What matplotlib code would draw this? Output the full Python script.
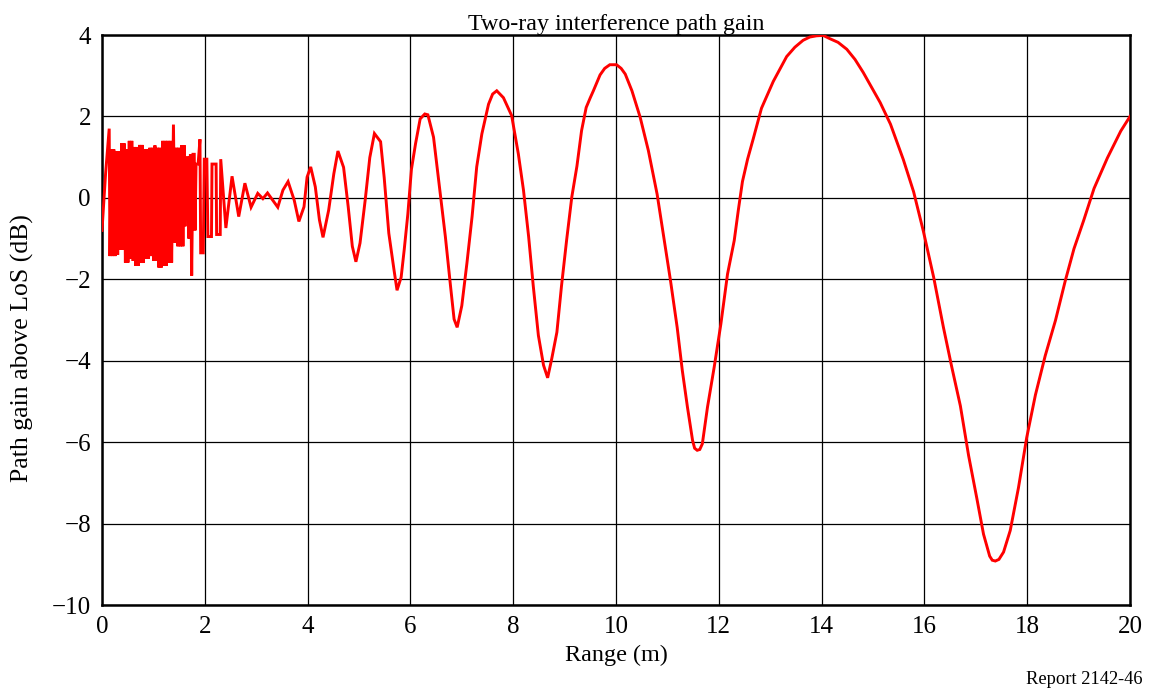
import matplotlib
matplotlib.use("Agg")
import matplotlib.pyplot as plt

# Range (m) and path gain above LoS (dB)
range_m = [
    0.000, 0.070, 0.140, 0.155, 0.180, 0.205, 0.230, 0.255, 0.280, 0.305,
    0.330, 0.355, 0.380, 0.405, 0.430, 0.455, 0.480, 0.505, 0.530, 0.555,
    0.580, 0.605, 0.630, 0.655, 0.680, 0.705, 0.730, 0.755, 0.780, 0.805,
    0.830, 0.855, 0.880, 0.905, 0.930, 0.955, 0.980, 1.005, 1.030, 1.055,
    1.080, 1.105, 1.130, 1.155, 1.180, 1.205, 1.230, 1.255, 1.280, 1.305,
    1.330, 1.355, 1.390, 1.420, 1.450, 1.475, 1.500, 1.525, 1.550, 1.575,
    1.600, 1.615, 1.640, 1.670, 1.690, 1.720, 1.745, 1.770, 1.795, 1.810,
    1.830, 1.870, 1.906, 1.920, 1.970, 1.990, 2.040, 2.060, 2.130, 2.140,
    2.220, 2.230, 2.300, 2.310, 2.410, 2.530, 2.660, 2.780, 2.900, 3.030,
    3.130, 3.220, 3.300, 3.420, 3.520, 3.620, 3.740, 3.830, 3.930, 3.990,
    4.060, 4.150, 4.230, 4.300, 4.410, 4.510, 4.590, 4.700, 4.790, 4.870,
    4.940, 5.020, 5.120, 5.210, 5.300, 5.420, 5.490, 5.580, 5.680, 5.740,
    5.820, 5.880, 5.950, 6.020, 6.100, 6.190, 6.280, 6.340, 6.450, 6.580,
    6.680, 6.780, 6.850, 6.910, 7.000, 7.100, 7.200, 7.290, 7.390, 7.520,
    7.600, 7.680, 7.810, 7.970, 8.100, 8.200, 8.300, 8.390, 8.490, 8.590,
    8.670, 8.750, 8.850, 8.940, 9.040, 9.140, 9.240, 9.330, 9.420, 9.500,
    9.560, 9.690, 9.780, 9.880, 10.010, 10.100, 10.180, 10.310, 10.470, 10.630,
    10.800, 10.930, 11.060, 11.190, 11.290, 11.390, 11.490, 11.530, 11.580, 11.630,
    11.680, 11.780, 11.910, 12.040, 12.170, 12.300, 12.380, 12.460, 12.560, 12.670,
    12.830, 13.060, 13.320, 13.480, 13.640, 13.770, 13.900, 14.030, 14.160, 14.320,
    14.490, 14.650, 14.810, 15.140, 15.340, 15.590, 15.790, 15.980, 16.180, 16.370,
    16.530, 16.700, 16.860, 17.020, 17.150, 17.270, 17.320, 17.380, 17.450, 17.540,
    17.670, 17.830, 17.990, 18.160, 18.350, 18.550, 18.740, 18.910, 19.100, 19.300,
    19.560, 19.820, 20.000,
]
gain_db = [
    -0.80, 0.60, 1.70, -1.43, 1.19, -1.43, 1.19, -1.43, 1.14, -1.40,
    1.14, -1.27, 1.34, -1.27, 1.34, -1.59, 1.19, -1.59, 1.40, -1.50,
    1.40, -1.55, 1.25, -1.67, 1.25, -1.67, 1.30, -1.60, 1.30, -1.60,
    1.20, -1.50, 1.20, -1.50, 1.23, -1.43, 1.23, -1.55, 1.29, -1.55,
    1.23, -1.71, 1.23, -1.71, 1.40, -1.67, 1.40, -1.67, 1.40, -1.59,
    1.40, -1.59, 1.80, -1.10, 1.23, -1.19, 1.23, -1.19, 1.29, -1.19,
    1.29, -0.70, 0.99, 0.99, -1.00, 1.07, -1.91, 1.07, 1.07, -0.80,
    0.83, 0.83, 1.44, -1.35, -1.35, 0.95, 0.95, -0.95, -0.95, 0.83,
    0.83, -0.90, -0.90, 0.95, -0.74, 0.53, -0.46, 0.36, -0.23, 0.11,
    -0.02, 0.12, -0.02, -0.23, 0.19, 0.40, -0.06, -0.58, -0.22, 0.51,
    0.76, 0.27, -0.54, -0.97, -0.30, 0.59, 1.15, 0.75, -0.22, -1.19,
    -1.57, -1.11, -0.06, 0.99, 1.58, 1.38, 0.50, -0.87, -1.76, -2.27,
    -1.95, -1.27, -0.40, 0.70, 1.33, 1.94, 2.06, 2.04, 1.49, 0.11,
    -0.95, -2.16, -2.98, -3.18, -2.65, -1.60, -0.46, 0.76, 1.57, 2.30,
    2.55, 2.63, 2.46, 2.02, 1.08, 0.19, -0.95, -2.16, -3.38, -4.11,
    -4.42, -3.95, -3.30, -2.16, -1.03, 0.02, 0.78, 1.65, 2.22, 2.46,
    2.63, 3.02, 3.18, 3.27, 3.27, 3.18, 3.04, 2.63, 1.98, 1.16,
    0.09, -0.97, -2.03, -3.18, -4.24, -5.14, -5.96, -6.15, -6.20, -6.18,
    -6.04, -5.14, -4.16, -3.10, -1.87, -1.05, -0.30, 0.40, 0.95, 1.45,
    2.20, 2.86, 3.47, 3.70, 3.87, 3.95, 3.98, 3.99, 3.91, 3.82,
    3.65, 3.40, 3.08, 2.34, 1.81, 0.94, 0.15, -0.82, -1.95, -3.18,
    -4.14, -5.11, -6.33, -7.38, -8.26, -8.80, -8.90, -8.92, -8.88, -8.70,
    -8.17, -7.12, -5.89, -4.84, -3.88, -3.01, -2.04, -1.25, -0.55, 0.23,
    0.98, 1.64, 2.00,
]
x_ticks = [0, 2, 4, 6, 8, 10, 12, 14, 16, 18, 20]
y_ticks = [-10, -8, -6, -4, -2, 0, 2, 4]
y_tick_labels = ["\u221210", "\u22128", "\u22126", "\u22124", "\u22122", "0", "2", "4"]

plt.rcParams['font.family'] = ['Liberation Serif', 'DejaVu Serif']

fig = plt.figure(figsize=(11.5, 6.91), dpi=100)
ax = fig.add_axes([102 / 1150, 1 - 605 / 691, 1028 / 1150, 570 / 691])

ax.plot(range_m, gain_db, color='#ff0000', linewidth=2.1, solid_joinstyle='miter', zorder=3)

ax.set_xlim(0, 20)
ax.set_ylim(-10, 4)
ax.set_xticks(x_ticks)
ax.set_yticks(y_ticks)
ax.set_yticklabels(y_tick_labels)
ax.tick_params(length=0, labelsize=18, pad=8)
ax.grid(True, color='black', linewidth=0.9)
ax.set_axisbelow(True)
for sp in ax.spines.values():
    sp.set_linewidth(1.8)
    sp.set_color('black')

ax.set_title("Two-ray interference path gain", fontsize=17.3, pad=3)
ax.set_xlabel("Range (m)", fontsize=17.4, labelpad=5)
ax.set_ylabel("Path gain above LoS (dB)", fontsize=18.5)
ax.yaxis.set_label_coords((34 - 102) / 1028, (605 - 348) / 570)
fig.text(1143 / 1150, 1 - 680 / 691, "Report 2142-46", ha='right', va='center', fontsize=13.3)

fig.savefig("out.png", dpi=100)
